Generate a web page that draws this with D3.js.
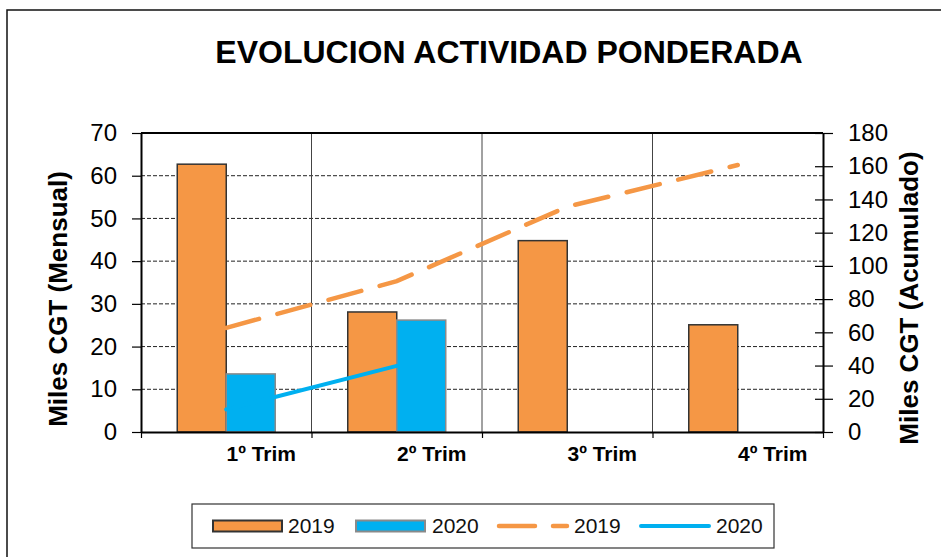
<!DOCTYPE html>
<html>
<head>
<meta charset="utf-8">
<script src="https://cdn.jsdelivr.net/npm/d3@7"></script>
<style>
  body { margin: 0; background: #fff; }
  svg { display: block; font-family: "Liberation Sans", Arial, sans-serif; }
</style>
</head>
<body>
<div id="chart"></div>
<script>
// data
var categories = ["1º Trim", "2º Trim", "3º Trim", "4º Trim"];
var mensual2019 = [62.7, 28.1, 44.8, 25.1];
var mensual2020 = [13.6, 26.2, null, null];
var acumulado2019 = [62.7, 90.8, 135.6, 160.7];
var acumulado2020 = [13.6, 39.8];
var leftTicks = [0, 10, 20, 30, 40, 50, 60, 70];
var rightTicks = [0, 20, 40, 60, 80, 100, 120, 140, 160, 180];

var orange = "#F59745";
var blue = "#00B0F0";

var width = 941, height = 557;
var plot = { left: 141, right: 823, top: 133, bottom: 432 };

var svg = d3.select("#chart").append("svg")
  .attr("width", width)
  .attr("height", height);

// outer chart border (runs off the right and bottom)
svg.append("rect")
  .attr("x", 7).attr("y", 10)
  .attr("width", 1000).attr("height", 700)
  .style("fill", "none")
  .style("stroke", "#111")
  .style("stroke-width", 1.5);

svg.append("text")
  .attr("x", 509).attr("y", 63)
  .attr("text-anchor", "middle")
  .style("font-size", "32px")
  .style("font-weight", "bold")
  .text("EVOLUCION ACTIVIDAD PONDERADA");

var x = d3.scaleBand().domain(categories).range([plot.left, plot.right]).padding(0);
var xEdge = d3.scaleLinear().domain([0, categories.length]).range([plot.left, plot.right]);
var yL = d3.scaleLinear().domain([0, 70]).range([plot.bottom, plot.top]);
var yR = d3.scaleLinear().domain([0, 180]).range([plot.bottom, plot.top]);
var series = d3.scaleBand().domain(["2019", "2020"]).range([-49, 49]);

// dashed horizontal gridlines
svg.append("g").selectAll("line")
  .data(leftTicks.filter(function(d) { return d > 0 && d < 70; }))
  .join("line")
  .attr("x1", plot.left).attr("x2", plot.right)
  .attr("y1", function(d) { return yL(d); })
  .attr("y2", function(d) { return yL(d); })
  .style("stroke", "#222")
  .style("stroke-width", 1)
  .style("stroke-dasharray", "4,2");

// vertical category separators
svg.append("g").selectAll("line")
  .data([1, 2, 3])
  .join("line")
  .attr("x1", function(d) { return xEdge(d); })
  .attr("x2", function(d) { return xEdge(d); })
  .attr("y1", plot.top).attr("y2", plot.bottom)
  .style("stroke", "#444")
  .style("stroke-width", 1);

// bars
var cx = function(i) { return x(categories[i]) + x.bandwidth() / 2; };

svg.append("g").selectAll("rect")
  .data(mensual2019)
  .join("rect")
  .attr("x", function(d, i) { return cx(i) + series("2019"); })
  .attr("y", function(d) { return yL(d); })
  .attr("width", series.bandwidth())
  .attr("height", function(d) { return yL(0) - yL(d); })
  .style("fill", orange)
  .style("stroke", "#333")
  .style("stroke-width", 1.5);

svg.append("g").selectAll("rect")
  .data(mensual2020.map(function(d, i) { return { v: d, i: i }; }).filter(function(d) { return d.v != null; }))
  .join("rect")
  .attr("x", function(d) { return cx(d.i) + series("2020"); })
  .attr("y", function(d) { return yL(d.v); })
  .attr("width", series.bandwidth())
  .attr("height", function(d) { return yL(0) - yL(d.v); })
  .style("fill", blue)
  .style("stroke", "#8a8a8a")
  .style("stroke-width", 1.5);

// accumulated lines
var line = d3.line()
  .x(function(d, i) { return cx(i); })
  .y(function(d) { return yR(d); });

svg.append("path")
  .datum(acumulado2019)
  .attr("d", line)
  .style("fill", "none")
  .style("stroke", orange)
  .style("stroke-width", 4.5)
  .style("stroke-linecap", "round")
  .style("stroke-dasharray", "34,19");

svg.append("path")
  .datum(acumulado2020)
  .attr("d", line)
  .style("fill", "none")
  .style("stroke", blue)
  .style("stroke-width", 4)
  .style("stroke-linecap", "round");

// plot frame top
svg.append("line")
  .attr("x1", plot.left).attr("x2", plot.right)
  .attr("y1", plot.top).attr("y2", plot.top)
  .style("stroke", "#000").style("stroke-width", 2);

function styleAxis(g) {
  g.select(".domain").style("stroke", "#000").style("stroke-width", 2);
  g.selectAll(".tick line").style("stroke", "#000").style("stroke-width", 1.2);
  g.selectAll("text").style("font-family", "'Liberation Sans', Arial, sans-serif").style("fill", "#000");
}

// left axis
var gL = svg.append("g")
  .attr("transform", "translate(" + plot.left + ",0)")
  .call(d3.axisLeft(yL).tickValues(leftTicks).tickSize(9).tickSizeOuter(0).tickPadding(15));
styleAxis(gL);
gL.selectAll("text").style("font-size", "24px");

// right axis (ticks cross the axis line)
var gR = svg.append("g")
  .attr("transform", "translate(" + plot.right + ",0)")
  .call(d3.axisRight(yR).tickValues(rightTicks).tickSize(10).tickSizeOuter(0).tickPadding(15));
styleAxis(gR);
gR.selectAll(".tick line").attr("x1", -8);
gR.selectAll("text").style("font-size", "24px");

// bottom axis: edge ticks
var gB = svg.append("g")
  .attr("transform", "translate(0," + plot.bottom + ")")
  .call(d3.axisBottom(xEdge).tickValues([0, 1, 2, 3, 4]).tickSize(6).tickSizeOuter(0).tickFormat(""));
styleAxis(gB);

// bottom axis: category labels
var gC = svg.append("g")
  .attr("transform", "translate(35," + plot.bottom + ")")
  .call(d3.axisBottom(x).tickSize(0).tickPadding(14));
gC.select(".domain").remove();
gC.selectAll("text")
  .style("font-family", "'Liberation Sans', Arial, sans-serif")
  .style("font-size", "21px")
  .style("font-weight", "bold")
  .style("fill", "#000");

// axis titles
svg.append("text")
  .attr("transform", "translate(67,299) rotate(-90)")
  .attr("text-anchor", "middle")
  .style("font-size", "26px")
  .style("font-weight", "bold")
  .text("Miles CGT (Mensual)");

svg.append("text")
  .attr("transform", "translate(918,298) rotate(-90)")
  .attr("text-anchor", "middle")
  .style("font-size", "26px")
  .style("font-weight", "bold")
  .text("Miles CGT (Acumulado)");

// legend
var legend = svg.append("g");
legend.append("rect")
  .attr("x", 192).attr("y", 504)
  .attr("width", 582).attr("height", 44)
  .style("fill", "#fff")
  .style("stroke", "#333")
  .style("stroke-width", 1.2);

var ly = 526;
var legendItems = [
  { type: "bar", fill: orange, stroke: "#333", x: 213, tx: 288, label: "2019" },
  { type: "bar", fill: blue, stroke: "#8a8a8a", x: 356, tx: 432, label: "2020" },
  { type: "dash", color: orange, x: 499, tx: 574, label: "2019" },
  { type: "line", color: blue, x: 641, tx: 716, label: "2020" }
];
legendItems.forEach(function(it) {
  if (it.type === "bar") {
    legend.append("rect")
      .attr("x", it.x).attr("y", ly - 5.5)
      .attr("width", 69).attr("height", 11)
      .style("fill", it.fill)
      .style("stroke", it.stroke)
      .style("stroke-width", 2);
  } else {
    legend.append("line")
      .attr("x1", it.x).attr("x2", it.x + 68)
      .attr("y1", ly).attr("y2", ly)
      .style("stroke", it.color)
      .style("stroke-width", it.type === "dash" ? 4.5 : 4)
      .style("stroke-linecap", "round")
      .style("stroke-dasharray", it.type === "dash" ? "36,18" : null);
  }
  legend.append("text")
    .attr("x", it.tx).attr("y", ly)
    .attr("dy", "0.35em")
    .style("font-size", "21px")
    .style("fill", "#111")
    .text(it.label);
});
</script>
</body>
</html>
